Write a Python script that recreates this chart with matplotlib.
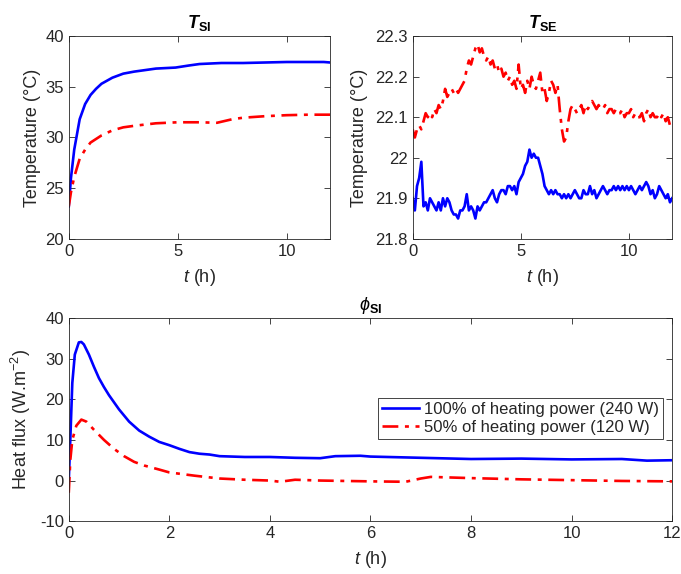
"""Surface temperatures and heat flux under two heating powers."""

import matplotlib
matplotlib.use("Agg")
import matplotlib.pyplot as plt
import numpy as np

# ── Data ──────────────────────────────────────────────────────────────────

# T_SI, interior surface temperature (°C)
tsi_t = [0, 0.1, 0.25, 0.5, 0.75, 1.0, 1.25, 1.5, 2.0, 2.5, 3.0, 4.0, 4.9,
         5.5, 6.0, 7.0, 8.0, 9.0, 10.0, 11.0, 11.7, 12.0]
tsi_full = [23.2, 26.0, 28.8, 31.8, 33.3, 34.2, 34.8, 35.3, 35.9, 36.3, 36.5,
            36.8, 36.9, 37.1, 37.25, 37.35, 37.35, 37.4, 37.45, 37.45, 37.45, 37.4]
tsi_t_half = [0, 0.1, 0.25, 0.5, 0.75, 1.0, 1.5, 2.0, 2.5, 3.0, 4.0, 5.0, 6.0,
              6.8, 7.5, 8.0, 9.0, 10.0, 11.0, 12.0]
tsi_half = [23.2, 24.6, 26.1, 27.9, 28.8, 29.5, 30.2, 30.7, 31.0, 31.15, 31.4,
            31.5, 31.5, 31.45, 31.8, 31.95, 32.1, 32.2, 32.25, 32.25]

# T_SE, exterior surface temperature (°C), one reading every 0.1 h
tse_t = [i / 10 for i in range(121)]
tse_full = [
    21.90, 21.87, 21.93, 21.95, 21.99, 21.88, 21.89, 21.87, 21.90, 21.89,
    21.88, 21.87, 21.89, 21.87, 21.90, 21.88, 21.90, 21.89, 21.87, 21.86,
    21.86, 21.85, 21.87, 21.87, 21.88, 21.91, 21.87, 21.88, 21.87, 21.85,
    21.88, 21.87, 21.88, 21.89, 21.89, 21.90, 21.91, 21.92, 21.90, 21.89,
    21.91, 21.92, 21.92, 21.91, 21.93, 21.93, 21.92, 21.93, 21.91, 21.94,
    21.95, 21.96, 21.98, 21.99, 22.02, 22.00, 22.01, 22.00, 22.00, 21.98,
    21.96, 21.93, 21.92, 21.91, 21.92, 21.91, 21.92, 21.91, 21.91, 21.90,
    21.91, 21.90, 21.91, 21.90, 21.91, 21.92, 21.91, 21.90, 21.90, 21.92,
    21.91, 21.91, 21.93, 21.91, 21.92, 21.90, 21.91, 21.92, 21.93, 21.92,
    21.91, 21.92, 21.92, 21.93, 21.92, 21.93, 21.92, 21.93, 21.92, 21.93,
    21.92, 21.93, 21.92, 21.91, 21.92, 21.93, 21.92, 21.93, 21.94, 21.93,
    21.91, 21.92, 21.90, 21.91, 21.93, 21.92, 21.91, 21.90, 21.91, 21.89,
    21.90,
]
tse_half = [
    22.07, 22.05, 22.07, 22.08, 22.07, 22.09, 22.11, 22.10, 22.11, 22.10,
    22.12, 22.11, 22.13, 22.12, 22.14, 22.17, 22.15, 22.16, 22.17, 22.16,
    22.17, 22.16, 22.17, 22.18, 22.19, 22.22, 22.24, 22.23, 22.25, 22.27,
    22.28, 22.26, 22.27, 22.25, 22.24, 22.25, 22.23, 22.24, 22.22, 22.23,
    22.21, 22.22, 22.20, 22.21, 22.19, 22.20, 22.18, 22.19, 22.17, 22.23,
    22.17, 22.18, 22.16, 22.19, 22.17, 22.20, 22.18, 22.17, 22.19, 22.21,
    22.16, 22.17, 22.14, 22.16, 22.19, 22.18, 22.16, 22.18, 22.12, 22.07,
    22.04, 22.05, 22.09, 22.12, 22.13, 22.12, 22.11, 22.12, 22.13, 22.11,
    22.13, 22.12, 22.13, 22.14, 22.13, 22.12, 22.13, 22.12, 22.12, 22.13,
    22.11, 22.12, 22.12, 22.11, 22.12, 22.11, 22.11, 22.12, 22.10, 22.11,
    22.11, 22.12, 22.10, 22.11, 22.10, 22.10, 22.11, 22.09, 22.11, 22.12,
    22.10, 22.11, 22.10, 22.10, 22.11, 22.10, 22.11, 22.09, 22.10, 22.08,
    22.08,
]

# phi_SI, interior surface heat flux (W.m-2)
phi_t = [0, 0.03, 0.07, 0.12, 0.2, 0.25, 0.3, 0.4, 0.5, 0.6, 0.7, 0.8, 1.0,
         1.2, 1.4, 1.6, 1.8, 2.0, 2.2, 2.4, 2.6, 2.8, 3.0, 3.5, 4.0, 4.5, 5.0,
         5.3, 5.8, 6.0, 7.0, 8.0, 9.0, 10.0, 11.0, 11.5, 12.0]
phi_full = [0, 10, 24, 31, 34, 34.1, 33.5, 31, 28, 25.2, 23, 21, 17.5, 14.5,
            12.3, 10.8, 9.5, 8.7, 7.8, 7.0, 6.6, 6.4, 6.0, 5.8, 5.8, 5.6, 5.5,
            6.0, 6.1, 5.9, 5.6, 5.3, 5.4, 5.2, 5.3, 4.9, 5.0]
phi_t_half = [0, 0.03, 0.07, 0.15, 0.25, 0.35, 0.5, 0.7, 0.9, 1.1, 1.3, 1.5,
              1.8, 2.0, 2.5, 3.0, 3.5, 4.0, 4.2, 4.5, 5.0, 6.0, 6.7, 7.0, 7.2,
              8.0, 9.0, 10.0, 11.0, 12.0]
phi_half = [-3, 5, 10, 13.5, 15, 14.5, 12.5, 10.0, 7.8, 6.0, 4.6, 3.7, 2.7,
            2.0, 1.2, 0.5, 0.2, 0.0, -0.3, 0.2, 0.0, -0.2, -0.3, 0.5, 0.9, 0.6,
            0.3, 0.1, -0.1, -0.2]

labels = ["100% of heating power (240 W)", "50% of heating power (120 W)"]

# ── Style ─────────────────────────────────────────────────────────────────

plt.rcParams["font.family"] = ["Liberation Sans", "DejaVu Sans"]
plt.rcParams["mathtext.fontset"] = "custom"
plt.rcParams["mathtext.rm"] = "Liberation Sans"
plt.rcParams["mathtext.it"] = "Liberation Sans:italic"
plt.rcParams["mathtext.bf"] = "Liberation Sans:bold"
plt.rcParams["mathtext.bfit"] = "Liberation Sans:bold:italic"
plt.rcParams["axes.unicode_minus"] = False

TEXT = "#262626"
SPINE = "#262626"
LW = 1.9
TICK_FS = 12
LABEL_FS = 13
FULL = dict(color="#0000ff", lw=LW, ls="-")
HALF = dict(color="#ff0000", lw=LW, ls=(0, (6, 2.5, 1.5, 2.5)))


def style_axes(ax):
    ax.tick_params(direction="in", top=True, right=True, labelsize=TICK_FS,
                   colors=TEXT, length=4, width=0.6)
    for sp in ax.spines.values():
        sp.set_color(SPINE)
        sp.set_linewidth(0.6)
    ax.set_xlabel(r"$\mathit{t}$ (h)", fontsize=LABEL_FS, color=TEXT, labelpad=6)


fig = plt.figure(figsize=(6.81, 5.74), dpi=100)
ax1 = fig.add_axes([0.101, 0.584, 0.384, 0.353])
ax2 = fig.add_axes([0.606, 0.584, 0.381, 0.353])
ax3 = fig.add_axes([0.101, 0.092, 0.886, 0.354])

# T_SI
ax1.plot(tsi_t, tsi_full, **FULL)
ax1.plot(tsi_t_half, tsi_half, **HALF)
ax1.set_xlim(0, 12)
ax1.set_ylim(20, 40)
ax1.set_xticks([0, 5, 10])
ax1.set_yticks(np.arange(20, 41, 5))
ax1.set_ylabel("Temperature (°C)", fontsize=LABEL_FS, color=TEXT, labelpad=3)
ax1.set_title(r"$\mathbfit{T}_{\mathbf{SI}}$", fontsize=13, pad=6)
style_axes(ax1)

# T_SE
ax2.plot(tse_t, tse_full, **FULL)
ax2.plot(tse_t, tse_half, **HALF)
ax2.set_xlim(0, 12)
ax2.set_ylim(21.8, 22.3)
ax2.set_xticks([0, 5, 10])
ax2.set_yticks([21.8, 21.9, 22.0, 22.1, 22.2, 22.3])
ax2.set_yticklabels(["21.8", "21.9", "22", "22.1", "22.2", "22.3"])
ax2.set_ylabel("Temperature (°C)", fontsize=LABEL_FS, color=TEXT, labelpad=5)
ax2.set_title(r"$\mathbfit{T}_{\mathbf{SE}}$", fontsize=13, pad=6)
style_axes(ax2)

# phi_SI
ax3.plot(phi_t, phi_full, **FULL, label=labels[0])
ax3.plot(phi_t_half, phi_half, **HALF, label=labels[1])
ax3.set_xlim(0, 12)
ax3.set_ylim(-10, 40)
ax3.set_xticks(np.arange(0, 13, 2))
ax3.set_yticks(np.arange(-10, 41, 10))
ax3.set_ylabel(r"Heat flux (W.m$^{-2}$)", fontsize=LABEL_FS, color=TEXT, labelpad=5)
ax3.set_title(r"$\phi_{\mathbf{SI}}$", fontsize=13, pad=6)
style_axes(ax3)

leg = ax3.legend(loc="upper right", bbox_to_anchor=(0.985, 0.607),
                 fontsize=12, fancybox=False, framealpha=1,
                 edgecolor=SPINE, handlelength=2.2, handletextpad=0.3,
                 borderpad=0.25, labelspacing=0.15, borderaxespad=0)
leg.get_frame().set_linewidth(0.6)
for txt in leg.get_texts():
    txt.set_color(TEXT)

fig.savefig("out.png", dpi=100)
